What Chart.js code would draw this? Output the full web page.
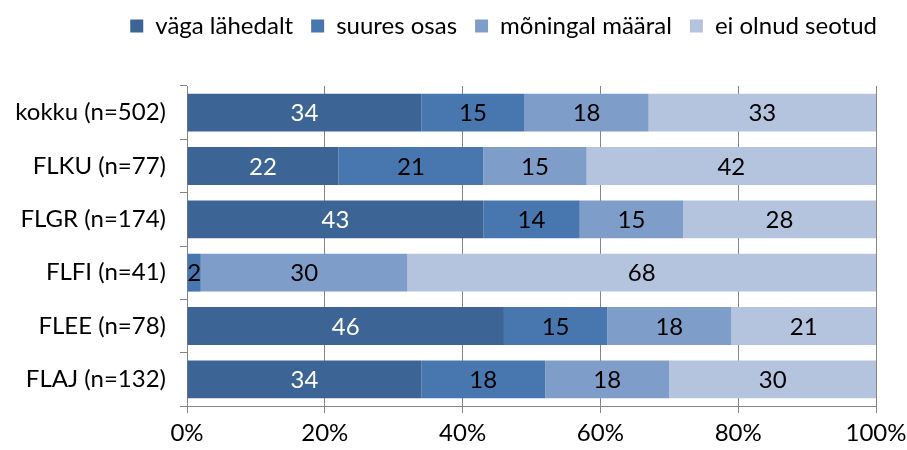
<!DOCTYPE html>
<html>
<head>
<meta charset="utf-8">
<script src="https://cdn.jsdelivr.net/npm/chart.js@4"></script>
<style>
  body { margin: 0; background: #fff; }
  #wrap { width: 907px; height: 450px; }
</style>
</head>
<body>
<div id="wrap"><canvas id="barChart"></canvas></div>
<script>
const categories = ['kokku (n=502)', 'FLKU (n=77)', 'FLGR (n=174)', 'FLFI (n=41)', 'FLEE (n=78)', 'FLAJ (n=132)'];
const vagaLahedalt = [34, 22, 43, 0, 46, 34];
const suuresOsas = [15, 21, 14, 2, 15, 18];
const moningalMaaral = [18, 15, 15, 30, 18, 18];
const eiOlnudSeotud = [33, 42, 28, 68, 21, 30];
const xTicks = ['0%', '20%', '40%', '60%', '80%', '100%'];

const FONT = 'Lato, "Open Sans", sans-serif';
const SIZE = 24;
const GRID = '#868686';

// draws the numbers inside the bars
const barLabels = {
    id: 'barLabels',
    afterDatasetsDraw(chart) {
        const ctx = chart.ctx;
        ctx.save();
        ctx.font = SIZE + 'px ' + FONT;
        ctx.textAlign = 'center';
        ctx.textBaseline = 'middle';
        chart.data.datasets.forEach((ds, i) => {
            chart.getDatasetMeta(i).data.forEach((bar, j) => {
                const v = ds.data[j];
                if (!v) return;
                ctx.fillStyle = i === 0 ? '#ffffff' : '#000000';
                ctx.fillText(v, (bar.x + bar.base) / 2, bar.y + 1);
            });
        });
        ctx.restore();
    }
};

// extra room under the legend
const legendGap = {
    id: 'legendGap',
    beforeInit(chart) {
        const fit = chart.legend.fit;
        chart.legend.fit = function () {
            fit.bind(chart.legend)();
            this.height += 38;
        };
    }
};

const CHART = document.getElementById('barChart');
let barChart = new Chart(CHART, {
    type: 'bar',
    data: {
        labels: categories,
        datasets: [
            { label: 'väga lähedalt', data: vagaLahedalt, backgroundColor: '#3C6595' },
            { label: 'suures osas', data: suuresOsas, backgroundColor: '#4877B0' },
            { label: 'mõningal määral', data: moningalMaaral, backgroundColor: '#7F9DC9' },
            { label: 'ei olnud seotud', data: eiOlnudSeotud, backgroundColor: '#B4C3DE' }
        ]
    },
    plugins: [barLabels, legendGap],
    options: {
        indexAxis: 'y',
        responsive: true,
        maintainAspectRatio: false,
        animation: false,
        layout: { padding: { left: 0, right: 12, top: -4, bottom: 0 } },
        datasets: { bar: { categoryPercentage: 1, barPercentage: 0.71, borderWidth: 0 } },
        plugins: {
            tooltip: { enabled: false },
            legend: {
                position: 'top',
                align: 'end',
                labels: {
                    font: { family: FONT, size: SIZE },
                    color: '#000',
                    boxWidth: 13,
                    boxHeight: 13,
                    padding: 18
                }
            }
        },
        scales: {
            x: {
                stacked: true,
                min: 0,
                max: 100,
                ticks: {
                    stepSize: 20,
                    color: '#000',
                    font: { family: FONT, size: SIZE },
                    padding: 6,
                    callback: (v, i) => xTicks[i]
                },
                grid: { color: GRID, tickLength: 7, lineWidth: 1 },
                border: { color: GRID, width: 1 },
                afterFit: s => { s.height = 44; s.paddingRight = 31; }
            },
            y: {
                stacked: true,
                ticks: {
                    color: '#000',
                    font: { family: FONT, size: SIZE },
                    padding: 14
                },
                grid: { offset: true, drawOnChartArea: false, color: GRID, tickLength: 7 },
                border: { color: GRID, width: 1 },
                afterFit: s => { s.width = 187; }
            }
        }
    }
});
</script>
</body>
</html>
